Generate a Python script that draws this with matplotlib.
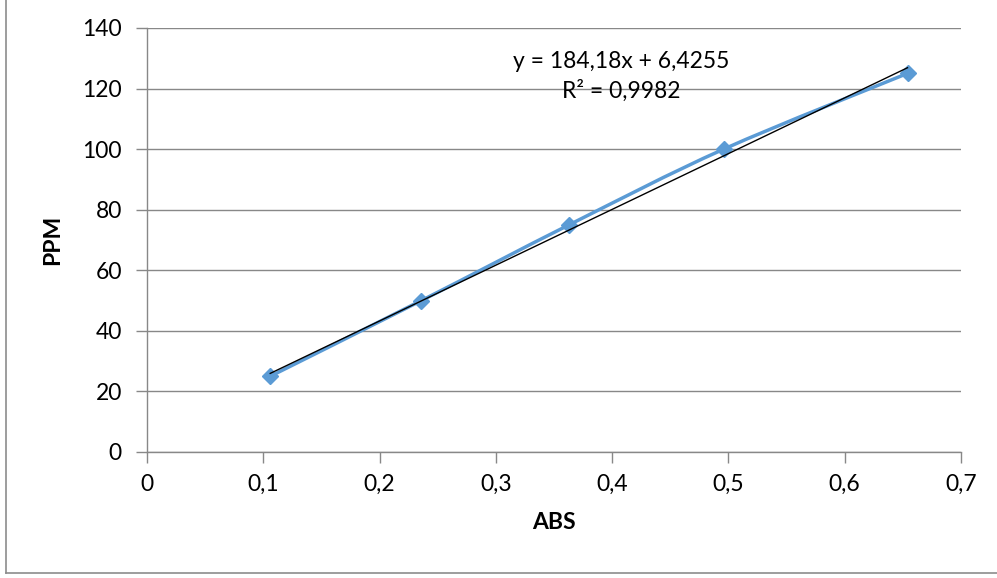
import numpy as np
import matplotlib.pyplot as plt
from matplotlib.path import Path
from matplotlib.patches import PathPatch
from matplotlib.lines import Line2D

plt.rcParams['font.family'] = ['Lato', 'DejaVu Sans']

# calibration points
abs_vals = [0.106, 0.236, 0.363, 0.496, 0.654]
ppm_vals = [25, 50, 75, 100, 125]

# trendline as printed on the chart
slope = 184.18
intercept = 6.4255
eq_text = "y = 184,18x + 6,4255\nR² = 0,9982"

x_ticks = [0, 0.1, 0.2, 0.3, 0.4, 0.5, 0.6, 0.7]
x_ticklabels = ["0", "0,1", "0,2", "0,3", "0,4", "0,5", "0,6", "0,7"]
y_ticks = [0, 20, 40, 60, 80, 100, 120, 140]

blue = "#5B9BD5"
grid_col = "#888888"
fs = 16.5

fig = plt.figure(figsize=(9.97, 5.78), dpi=100)
ax = fig.add_axes([0.1474, 0.218, 0.8165, 0.7336])
ax.set_xlim(0, 0.7)
ax.set_ylim(0, 140)

# smoothed line (Excel-like Catmull-Rom turned into cubic beziers)
pts = np.column_stack([abs_vals, ppm_vals])
verts = [pts[0]]
codes = [Path.MOVETO]
for i in range(len(pts) - 1):
    p0 = pts[i - 1] if i > 0 else pts[i]
    p1, p2 = pts[i], pts[i + 1]
    p3 = pts[i + 2] if i + 2 < len(pts) else pts[i + 1]
    c1 = p1 + (p2 - p0) / 6
    c2 = p2 - (p3 - p1) / 6
    verts += [c1, c2, p2]
    codes += [Path.CURVE4] * 3
ax.add_patch(PathPatch(Path(verts, codes), facecolor="none", edgecolor=blue,
                       lw=2.5, zorder=3))
ax.plot(abs_vals, ppm_vals, ls="none", marker="D", ms=8.5, color=blue, zorder=4)

# linear trendline
tx = np.array([min(abs_vals), max(abs_vals)])
ax.plot(tx, slope * tx + intercept, color="black", lw=1.0, zorder=5)

ax.text(0.408, 124, eq_text, ha="center", va="center", fontsize=fs,
        linespacing=1.45, zorder=6)

ax.set_xticks(x_ticks)
ax.set_xticklabels(x_ticklabels)
ax.set_yticks(y_ticks)
ax.grid(axis="y", color=grid_col, lw=1.0)
ax.set_axisbelow(True)
for s in ["top", "right"]:
    ax.spines[s].set_visible(False)
for s in ["left", "bottom"]:
    ax.spines[s].set_color(grid_col)
    ax.spines[s].set_linewidth(1.0)
ax.tick_params(axis="both", colors=grid_col, length=8, width=1.0,
               labelcolor="black", labelsize=fs)
ax.tick_params(axis="y", pad=10)
ax.tick_params(axis="x", pad=8)

ax.set_xlabel("ABS", fontsize=fs, fontweight="bold", labelpad=12)
ax.set_ylabel("PPM", fontsize=fs, fontweight="bold", labelpad=14)

# chart frame (left and bottom visible in the crop)
fig.add_artist(Line2D([6 / 997, 6 / 997], [1 - 573 / 578, 1.0],
                      color="#8c8c8c", lw=1.2, transform=fig.transFigure))
fig.add_artist(Line2D([6 / 997, 1.0], [1 - 573 / 578, 1 - 573 / 578],
                      color="#8c8c8c", lw=1.2, transform=fig.transFigure))

fig.savefig("out.png", dpi=100)
